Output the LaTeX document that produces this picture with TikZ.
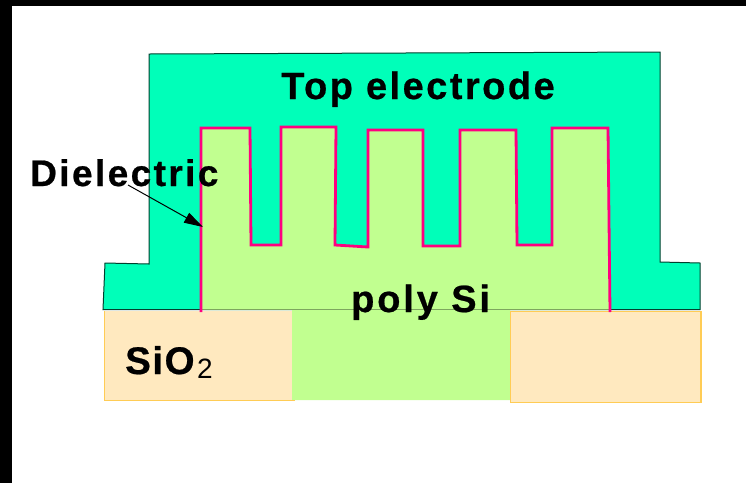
\documentclass[tikz,border=0pt]{standalone}
\usepackage{fontspec}
\setmainfont{Liberation Sans}
\newfontfamily\lblfont[LetterSpace=6.5,FakeBold=0.6]{Liberation Sans Bold}
\newfontfamily\lblwide[LetterSpace=7.5,FakeBold=0.6]{Liberation Sans Bold}
\newfontfamily\lbltight[LetterSpace=4,FakeBold=0.6]{Liberation Sans Bold}
\usetikzlibrary{arrows.meta}
\definecolor{elec}{HTML}{00FFB9}
\definecolor{poly}{HTML}{C1FF90}
\definecolor{oxide}{HTML}{FFE9BF}
\definecolor{oxline}{HTML}{FFCC55}
\definecolor{diel}{HTML}{FF0080}
\tikzset{
  electrode/.style={fill=elec,draw=black!75!elec,line width=1pt,line join=miter},
  polyfill/.style={fill=poly,draw=none},
  oxidebox/.style={fill=oxide,draw=oxline,line width=1.2pt},
  dielectric/.style={draw=diel,line width=2.8pt,line join=miter},
  lbl/.style={inner sep=0pt,anchor=base west,text=black},
}
\begin{document}
\begin{tikzpicture}[x=1pt,y=-1pt]
\useasboundingbox (0,0) rectangle (746,483);
\fill[white] (0,0) rectangle (746,483);
\fill[black] (0,0) rectangle (746,6);
\fill[black] (0,0) rectangle (12,483);
% top electrode
\draw[electrode] (149,54) -- (660,52) -- (660,262) -- (700,263) -- (700,309.5) -- (103,309.5) -- (105,263) -- (149,264) -- cycle;
% poly Si
\fill[polyfill] (201,310) -- (201,128) -- (250,128) -- (251,245) -- (281,245) -- (281,127) -- (336,127) -- (335,245) -- (368,247) -- (368,130) -- (423,130) -- (423,246) -- (460,246) -- (460,130) -- (516,130) -- (517,245) -- (552,245) -- (552,128) -- (608,128) -- (610,310) -- (510,310) -- (510,400) -- (292,400) -- (292,310) -- cycle;
\draw[black!35!poly,line width=.6pt] (201,309.5) -- (610,309.5);
% SiO2
\fill[oxide] (104.5,311) rectangle (292,400.5);
\draw[oxline,line width=1.2pt] (104.5,311) -- (104.5,400.5) -- (295,400.5);
\draw[oxidebox] (510.5,311.5) -- (701,311.5) -- (701,402.5) -- (510.5,402.5) -- cycle;
% dielectric
\draw[dielectric] (201,312) -- (201,128) -- (250,128) -- (251,245) -- (281,245) -- (281,127) -- (336,127) -- (335,245) -- (368,247) -- (368,130) -- (423,130) -- (423,246) -- (460,246) -- (460,130) -- (516,130) -- (517,245) -- (552,245) -- (552,128) -- (608,128) -- (610,312);
% labels
\node[lbl,font=\lblfont\fontsize{38}{38}\selectfont] (top) at (281,99) {Top electrode};
\node[lbl,font=\lblfont\fontsize{37}{37}\selectfont] (dielabel) at (30,186) {Dielectric};
\node[lbl,font=\lblwide\fontsize{38}{38}\selectfont] (polylabel) at (351,312) {poly Si};
\node[lbl,font=\lbltight\fontsize{38.5}{38.5}\selectfont] (sio) at (125,374) {SiO};
\node[lbl,font=\fontsize{28}{28}\selectfont] (sub) at (197,378) {2};
% arrow
\coordinate (arrstart) at (128,185);
\coordinate (arrend) at (203,227);
\draw[-{Triangle[length=19pt,width=11pt]},line width=1pt] (arrstart) -- (arrend);
\end{tikzpicture}
\end{document}
